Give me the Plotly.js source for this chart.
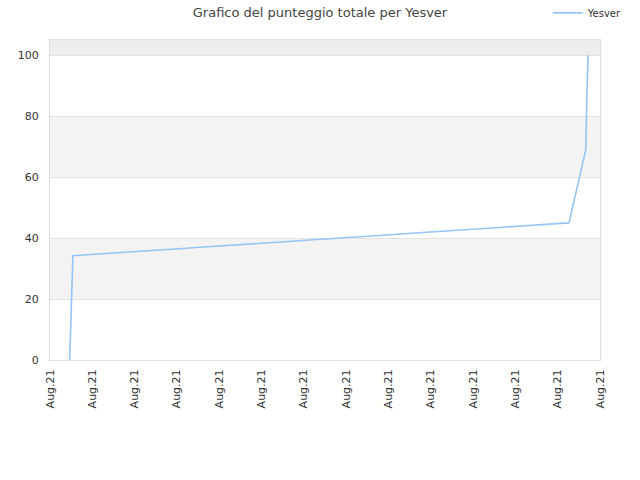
<!DOCTYPE html>
<html>
<head>
<meta charset="utf-8">
<script src="https://cdn.plot.ly/plotly-3.0.1.min.js"></script>
<style>
  html, body { margin: 0; padding: 0; background: #fff; }
  #chart { width: 640px; height: 480px; }
</style>
</head>
<body>
<div id="chart"></div>
<script>
// Punteggio totale di Yesver nel tempo (letto a occhio dal grafico).
const dates = [
    '2021-08-02 22:20', '2021-08-02 23:50', '2021-08-03 01:00', '2021-08-03 02:00',
    '2021-08-04 02:00', '2021-08-05 02:00', '2021-08-06 02:00', '2021-08-07 02:00',
    '2021-08-08 02:00', '2021-08-09 02:00', '2021-08-10 02:00', '2021-08-11 02:00',
    '2021-08-12 02:00', '2021-08-13 02:00', '2021-08-14 02:00', '2021-08-15 02:00',
    '2021-08-16 02:00', '2021-08-17 02:00', '2021-08-18 02:00', '2021-08-19 02:00',
    '2021-08-20 02:00', '2021-08-21 02:00', '2021-08-22 02:00', '2021-08-23 02:00',
    '2021-08-24 02:00', '2021-08-25 02:00', '2021-08-26 02:00', '2021-08-26 12:00',
    '2021-08-26 13:00', '2021-08-27 07:50', '2021-08-27 09:00', '2021-08-27 10:20',
];
const scores = [
    0, 18, 22, 34.2,
    34.7, 35.1, 35.6, 36.0,
    36.5, 37.0, 37.4, 37.9,
    38.3, 38.8, 39.3, 39.7,
    40.2, 40.7, 41.1, 41.6,
    42.0, 42.5, 43.0, 43.4,
    43.9, 44.3, 44.8, 45.0,
    45.2, 68.9, 85, 100,
];
const playerName = 'Yesver';
const xRange = ['2021-08-02', '2021-08-28'];
const yTicks = [0, 20, 40, 60, 80, 100];
// fasce di sfondo alternate: [da, a, colore]
const bands = [[20, 40, '#f3f3f3'], [60, 80, '#f3f3f3'], [100, 105, '#eeeeee']];

const data = [{
    type: 'scatter',
    mode: 'lines',
    name: playerName,
    x: dates,
    y: scores,
    line: { color: '#94c5f3', width: 1.6 },
}];

const layout = {
    width: 640,
    height: 480,
    margin: { l: 50, r: 40, t: 40, b: 120, autoexpand: false },
    font: { family: 'DejaVu Sans, sans-serif', size: 11, color: '#333' },
    title: {
        text: 'Grafico del punteggio totale per ' + playerName,
        font: { size: 13, color: '#444' },
        x: 0.5, xref: 'container', xanchor: 'center',
        y: 0.975, yref: 'container', yanchor: 'middle',
    },
    showlegend: true,
    legend: {
        x: 0.905, xanchor: 'left', y: 1.13, yanchor: 'top',
        font: { size: 10, color: '#333' },
        bgcolor: 'rgba(0,0,0,0)',
        itemwidth: 30,
    },
    xaxis: {
        type: 'date',
        range: xRange,
        dtick: 2 * 86400000,
        tick0: '2021-08-02',
        tickformat: '%b.%y',
        tickangle: -90,
        showgrid: false,
        zeroline: false,
        showline: true,
        linecolor: '#dddddd',
        mirror: true,
        ticks: '',
        ticklabelstandoff: 4,
        fixedrange: true,
    },
    yaxis: {
        range: [0, 105],
        tickvals: yTicks,
        showgrid: true,
        gridcolor: '#e3e3e3',
        zeroline: false,
        showline: true,
        linecolor: '#dddddd',
        mirror: true,
        ticks: '',
        ticklabelstandoff: 8,
    },
    shapes: bands.map(b => ({
        type: 'rect', layer: 'below',
        xref: 'paper', yref: 'y',
        x0: 0, x1: 1, y0: b[0], y1: b[1],
        fillcolor: b[2], line: { width: 0 },
    })),
    paper_bgcolor: '#fff',
    plot_bgcolor: '#fff',
};

Plotly.newPlot('chart', data, layout, { displayModeBar: false, staticPlot: true });
</script>
</body>
</html>
